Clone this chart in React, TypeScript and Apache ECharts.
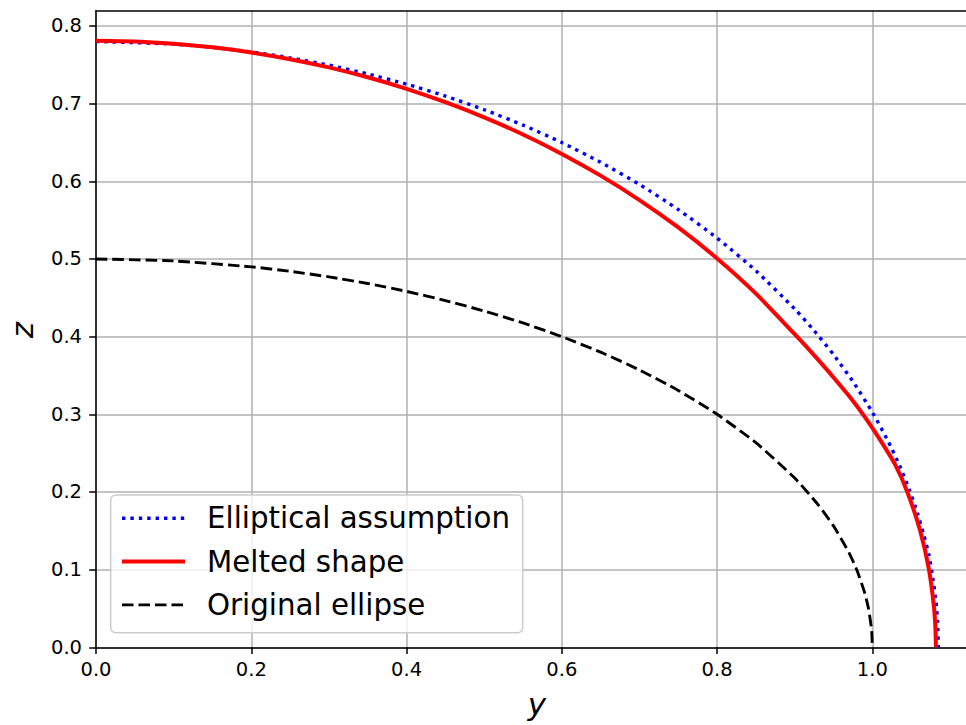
import React, { useEffect, useRef } from "react";
import * as echarts from "echarts";

// [y, z] pairs
const ellipticalPts: number[][] = [
  [0, 0.78], [0.1, 0.7767], [0.15, 0.7725], [0.2, 0.7666], [0.25, 0.759],
  [0.3, 0.7496], [0.35, 0.7383], [0.4, 0.7251], [0.45, 0.7098], [0.5, 0.6922],
  [0.55, 0.6724], [0.6, 0.6499], [0.65, 0.6245], [0.7, 0.596], [0.75, 0.5636],
  [0.8, 0.5269], [0.85, 0.4848], [0.9, 0.4356], [0.925, 0.4077], [0.95, 0.3768],
  [0.975, 0.3422], [1.0, 0.3026], [1.02, 0.2659], [1.035, 0.2341], [1.048, 0.202],
  [1.058, 0.1729], [1.066, 0.1453], [1.073, 0.1183], [1.078, 0.0885], [1.082, 0.058],
  [1.084, 0.0335], [1.085, 0],
];

const meltedPts: number[][] = [
  [0, 0.781], [0.05, 0.7801], [0.1, 0.7772], [0.15, 0.7725], [0.2, 0.7659],
  [0.25, 0.7573], [0.3, 0.7467], [0.35, 0.734], [0.4, 0.7191], [0.45, 0.7019],
  [0.5, 0.6824], [0.55, 0.6603], [0.6, 0.6353], [0.65, 0.6073], [0.7, 0.5759],
  [0.75, 0.5406], [0.8, 0.5007], [0.85, 0.4554], [0.9, 0.4031], [0.93, 0.3705],
  [0.95, 0.3475], [0.97, 0.3235], [0.99, 0.297], [1.01, 0.267], [1.03, 0.234],
  [1.045, 0.2], [1.0613, 0.151], [1.0729, 0.1], [1.0793, 0.0523], [1.0812, 0.025],
  [1.0819, 0],
];

const originalPts: number[][] = [
  [0, 0.5], [0.1, 0.4975], [0.2, 0.4899], [0.25, 0.4841], [0.3, 0.477],
  [0.35, 0.4684], [0.4, 0.4583], [0.45, 0.4465], [0.5, 0.433], [0.55, 0.4176],
  [0.6, 0.4], [0.65, 0.38], [0.7, 0.3571], [0.75, 0.3307], [0.8, 0.3],
  [0.85, 0.2634], [0.9, 0.2179], [0.93, 0.1838], [0.95, 0.1561], [0.97, 0.1216],
  [0.98, 0.0995], [0.99, 0.0705], [0.995, 0.0499], [0.999, 0.0224], [1.0, 0],
];

const seriesNames = ["Elliptical assumption", "Melted shape", "Original ellipse"];
const xTicks = [0, 0.2, 0.4, 0.6, 0.8, 1.0];
const yTicks = [0, 0.1, 0.2, 0.3, 0.4, 0.5, 0.6, 0.7, 0.8];
const xLabel = "y";
const yLabel = "z";

export default function App() {
  const ref = useRef<HTMLDivElement>(null);

  useEffect(() => {
    if (!ref.current) return;
    const chart = echarts.init(ref.current, null, { renderer: "svg" });
    const font = "DejaVu Sans";
    const xMax = 1.1206;
    const yMax = 0.8197;
    const spine = { show: true, onZero: false, lineStyle: { color: "#000", width: 1.5 } };
    const grid = { show: true, lineStyle: { color: "#b0b0b0", width: 1.5 } };
    const tick = (vals: number[]) => ({
      show: true,
      inside: false,
      length: 6.8,
      lineStyle: { color: "#000", width: 1.5 },
      customValues: vals,
    });
    const label = (vals: number[], margin: number) => ({
      customValues: vals,
      formatter: (v: number) => v.toFixed(1),
      color: "#000",
      fontSize: 19.5,
      fontFamily: font,
      margin,
    });
    chart.setOption({
      animation: false,
      grid: {
        left: 96,
        top: 10.7,
        right: 0,
        height: 636.6,
        show: false,
        containLabel: false,
      },
      xAxis: [
        {
          type: "value",
          min: 0,
          max: xMax,
          interval: 0.2,
          axisLine: spine,
          splitLine: grid,
          axisTick: tick(xTicks),
          axisLabel: label(xTicks, 12),
        },
        {
          type: "value",
          position: "top",
          min: 0,
          max: xMax,
          interval: 0.2,
          axisLine: spine,
          splitLine: { show: false },
          axisTick: { show: false },
          axisLabel: { show: false },
        },
      ],
      yAxis: {
        type: "value",
        min: 0,
        max: yMax,
        interval: 0.1,
        axisLine: spine,
        splitLine: grid,
        axisTick: tick(yTicks),
        axisLabel: label(yTicks, 14),
      },
      legend: {
        orient: "vertical",
        left: 110.7,
        top: 495,
        selectedMode: false,
        backgroundColor: "rgba(255,255,255,0.8)",
        borderColor: "#cccccc",
        borderWidth: 1.5,
        borderRadius: 5,
        padding: [8.3, 12.7, 12.8, 9.3],
        itemWidth: 63,
        itemHeight: 30,
        itemGap: 13.3,
        itemStyle: { opacity: 0 },
        textStyle: {
          fontSize: 29.3,
          fontFamily: font,
          color: "#000",
          lineHeight: 30,
          padding: [0, 0, 0, 17],
        },
        data: [
          { name: seriesNames[0], lineStyle: { width: 3.4 } },
          { name: seriesNames[1], lineStyle: { width: 4 } },
          { name: seriesNames[2], lineStyle: { width: 2.9 } },
        ],
      },
      graphic: [
        {
          type: "text",
          x: 537,
          y: 704,
          style: {
            text: xLabel,
            font: `italic 31px "${font}"`,
            fill: "#000",
            textAlign: "center",
            textVerticalAlign: "middle",
          },
        },
        {
          type: "text",
          x: 21.5,
          y: 330,
          rotation: Math.PI / 2,
          style: {
            text: yLabel,
            font: `italic 31px "${font}"`,
            fill: "#000",
            textAlign: "center",
            textVerticalAlign: "middle",
          },
        },
      ],
      series: [
        {
          name: seriesNames[0],
          type: "line",
          data: ellipticalPts,
          symbol: "none",
          showSymbol: false,
          smooth: 0.2,
          z: 2,
          lineStyle: { color: "#0000ff", width: 3.4, type: [3.4, 5], cap: "butt" },
          itemStyle: { color: "#0000ff" },
        },
        {
          name: seriesNames[1],
          type: "line",
          data: meltedPts,
          symbol: "none",
          showSymbol: false,
          smooth: 0.2,
          z: 3,
          lineStyle: { color: "#ff0000", width: 4 },
          itemStyle: { color: "#ff0000" },
        },
        {
          name: seriesNames[2],
          type: "line",
          data: originalPts,
          symbol: "none",
          showSymbol: false,
          smooth: 0.2,
          z: 4,
          lineStyle: { color: "#000000", width: 2.9, type: [11.5, 5] },
          itemStyle: { color: "#000000" },
        },
      ],
    });
    return () => chart.dispose();
  }, []);

  return (
    <div
      ref={ref}
      style={{ position: "absolute", left: 0, top: 0, width: 966, height: 725, background: "#fff" }}
    />
  );
}
